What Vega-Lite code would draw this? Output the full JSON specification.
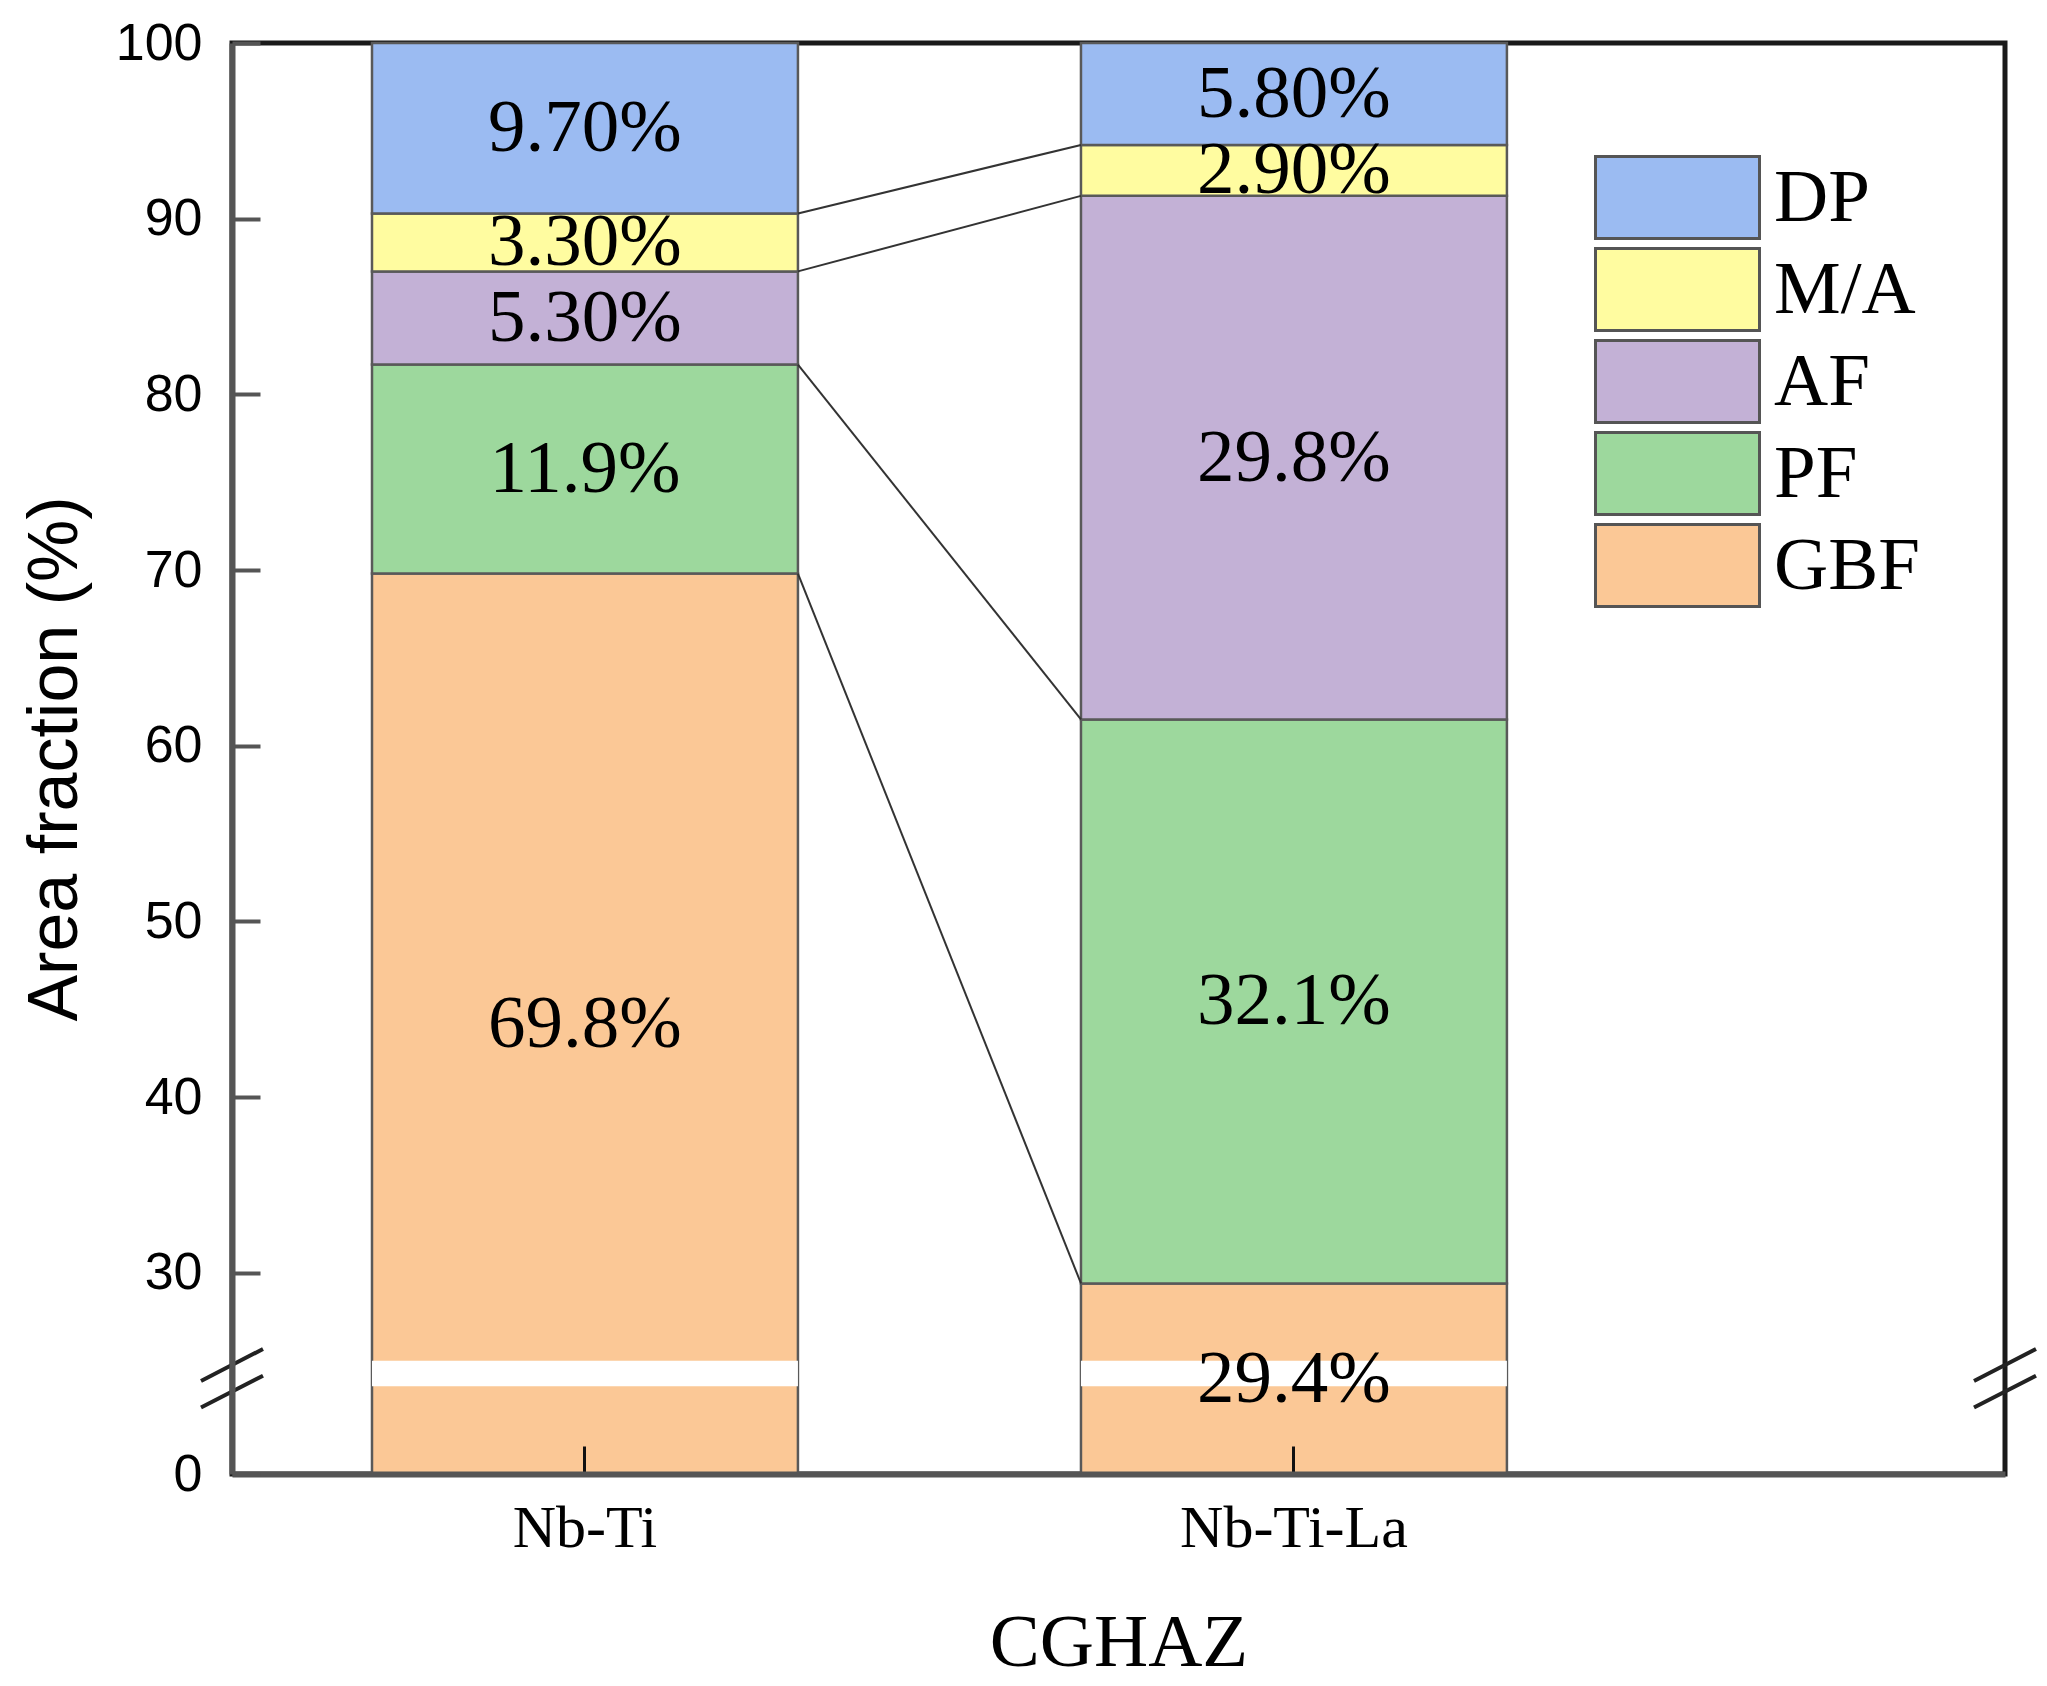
{
  "$schema": "https://vega.github.io/schema/vega-lite/v6.json",
  "width": 1773,
  "height": 1431,
  "autosize": {"type": "none"},
  "padding": {"left": 232, "top": 43, "right": 42, "bottom": 212},
  "background": "white",
  "config": {
    "view": {"stroke": "#1a1a1a", "strokeWidth": 5},
    "axis": {"grid": false, "labelColor": "#000", "titleColor": "#000", "titleFontWeight": "normal"}
  },
  "data": {
    "values": [
      {"group": "Nb-Ti", "phase": "GBF", "layer": 1, "value": 69.8, "label": "69.8%"},
      {"group": "Nb-Ti", "phase": "PF", "layer": 2, "value": 11.9, "label": "11.9%"},
      {"group": "Nb-Ti", "phase": "AF", "layer": 3, "value": 5.3, "label": "5.30%"},
      {"group": "Nb-Ti", "phase": "M/A", "layer": 4, "value": 3.3, "label": "3.30%"},
      {"group": "Nb-Ti", "phase": "DP", "layer": 5, "value": 9.7, "label": "9.70%"},
      {"group": "Nb-Ti-La", "phase": "GBF", "layer": 1, "value": 29.4, "label": "29.4%"},
      {"group": "Nb-Ti-La", "phase": "PF", "layer": 2, "value": 32.1, "label": "32.1%"},
      {"group": "Nb-Ti-La", "phase": "AF", "layer": 3, "value": 29.8, "label": "29.8%"},
      {"group": "Nb-Ti-La", "phase": "M/A", "layer": 4, "value": 2.9, "label": "2.90%"},
      {"group": "Nb-Ti-La", "phase": "DP", "layer": 5, "value": 5.8, "label": "5.80%"}
    ]
  },
  "layer": [
    {
      "mark": {"type": "bar", "stroke": "#595959", "strokeWidth": 2.5},
      "encoding": {
        "x": {
          "field": "group",
          "type": "nominal",
          "scale": {"domain": ["Nb-Ti", "Nb-Ti-La"], "paddingInner": 0.3992, "paddingOuter": 0.45, "align": 0.2194},
          "axis": {
            "title": "CGHAZ",
            "titleFont": "Liberation Serif",
            "titleFontSize": 75,
            "titlePadding": 48,
            "labelFont": "Liberation Serif",
            "labelFontSize": 60,
            "labelAngle": 0,
            "labelLimit": 0,
            "labelPadding": 53,
            "tickSize": -28,
            "tickWidth": 3,
            "tickColor": "#111",
            "domainColor": "#555",
            "domainWidth": 6,
            "zindex": 1
          }
        },
        "y": {
          "field": "value",
          "type": "quantitative",
          "stack": "zero",
          "scale": {"domain": [0, 24, 100], "range": [1431, 1335.3, 0], "nice": false, "zero": false},
          "axis": {
            "values": [0, 30, 40, 50, 60, 70, 80, 90, 100],
            "title": "Area fraction (%)",
            "titleFont": "Liberation Sans",
            "titleFontSize": 70,
            "titlePadding": 24,
            "labelFont": "Liberation Sans",
            "labelFontSize": 52,
            "labelPadding": 58,
            "labelFlush": false,
            "labelOverlap": false,
            "tickSize": -28,
            "tickWidth": 4,
            "tickColor": "#555",
            "domainColor": "#555",
            "domainWidth": 6,
            "zindex": 1
          }
        },
        "order": {"field": "layer", "type": "quantitative"},
        "color": {
          "field": "phase",
          "type": "nominal",
          "scale": {
            "domain": ["DP", "M/A", "AF", "PF", "GBF"],
            "range": ["#9bbbf2", "#fffca0", "#c3b1d6", "#9dd89d", "#fbc896"]
          },
          "legend": {
            "orient": "none",
            "legendX": 1403,
            "legendY": 112,
            "title": null,
            "padding": 0,
            "symbolType": "M-2,-1H2V1H-2Z",
            "symbolSize": 6724,
            "symbolStrokeColor": "#555",
            "symbolStrokeWidth": 3,
            "symbolOpacity": 1,
            "labelFont": "Liberation Serif",
            "labelFontSize": 75,
            "labelColor": "#000",
            "labelOffset": 54,
            "rowPadding": -3
          }
        }
      }
    },
    {
      "transform": [{"filter": "datum.phase === 'GBF'"}],
      "mark": {"type": "bar", "color": "white"},
      "encoding": {
        "x": {"field": "group", "type": "nominal"},
        "y": {"datum": 22, "type": "quantitative"},
        "y2": {"datum": 25}
      }
    },
    {
      "transform": [
        {"stack": "value", "groupby": ["group"], "sort": [{"field": "layer", "order": "ascending"}], "as": ["v0", "v1"]},
        {"filter": "datum.phase !== 'DP'"},
        {"pivot": "group", "value": "v1", "groupby": ["phase"]}
      ],
      "mark": {"type": "rule", "color": "#333", "strokeWidth": 2},
      "encoding": {
        "x": {"datum": "Nb-Ti", "type": "nominal", "bandPosition": 1},
        "x2": {"datum": "Nb-Ti-La", "bandPosition": 0},
        "y": {"field": "Nb-Ti", "type": "quantitative"},
        "y2": {"field": "Nb-Ti-La"}
      }
    },
    {
      "transform": [
        {"stack": "value", "groupby": ["group"], "sort": [{"field": "layer", "order": "ascending"}], "as": ["v0", "v1"]}
      ],
      "mark": {"type": "text", "font": "Liberation Serif", "fontSize": 75, "color": "#000", "baseline": "middle", "align": "center"},
      "encoding": {
        "x": {"field": "group", "type": "nominal"},
        "y": {"value": {"expr": "(scale('y', datum.v0) + scale('y', datum.v1)) / 2"}},
        "text": {"field": "label", "type": "nominal"}
      }
    },
    {
      "data": {"values": [{"edge": "left"}, {"edge": "right"}]},
      "transform": [{"filter": "datum.edge === 'left'"}],
      "mark": {"type": "point", "shape": "M-1,0.085L1,-0.945M-1,0.945L1,-0.085", "filled": false, "stroke": "#222", "strokeWidth": 4, "size": 3844, "opacity": 1},
      "encoding": {
        "x": {"value": 0},
        "y": {"datum": 24, "type": "quantitative"}
      }
    },
    {
      "data": {"values": [{"edge": "left"}, {"edge": "right"}]},
      "transform": [{"filter": "datum.edge === 'right'"}],
      "mark": {"type": "point", "shape": "M-1,0.085L1,-0.945M-1,0.945L1,-0.085", "filled": false, "stroke": "#222", "strokeWidth": 4, "size": 3844, "opacity": 1},
      "encoding": {
        "x": {"value": "width"},
        "y": {"datum": 24, "type": "quantitative"}
      }
    }
  ]
}
